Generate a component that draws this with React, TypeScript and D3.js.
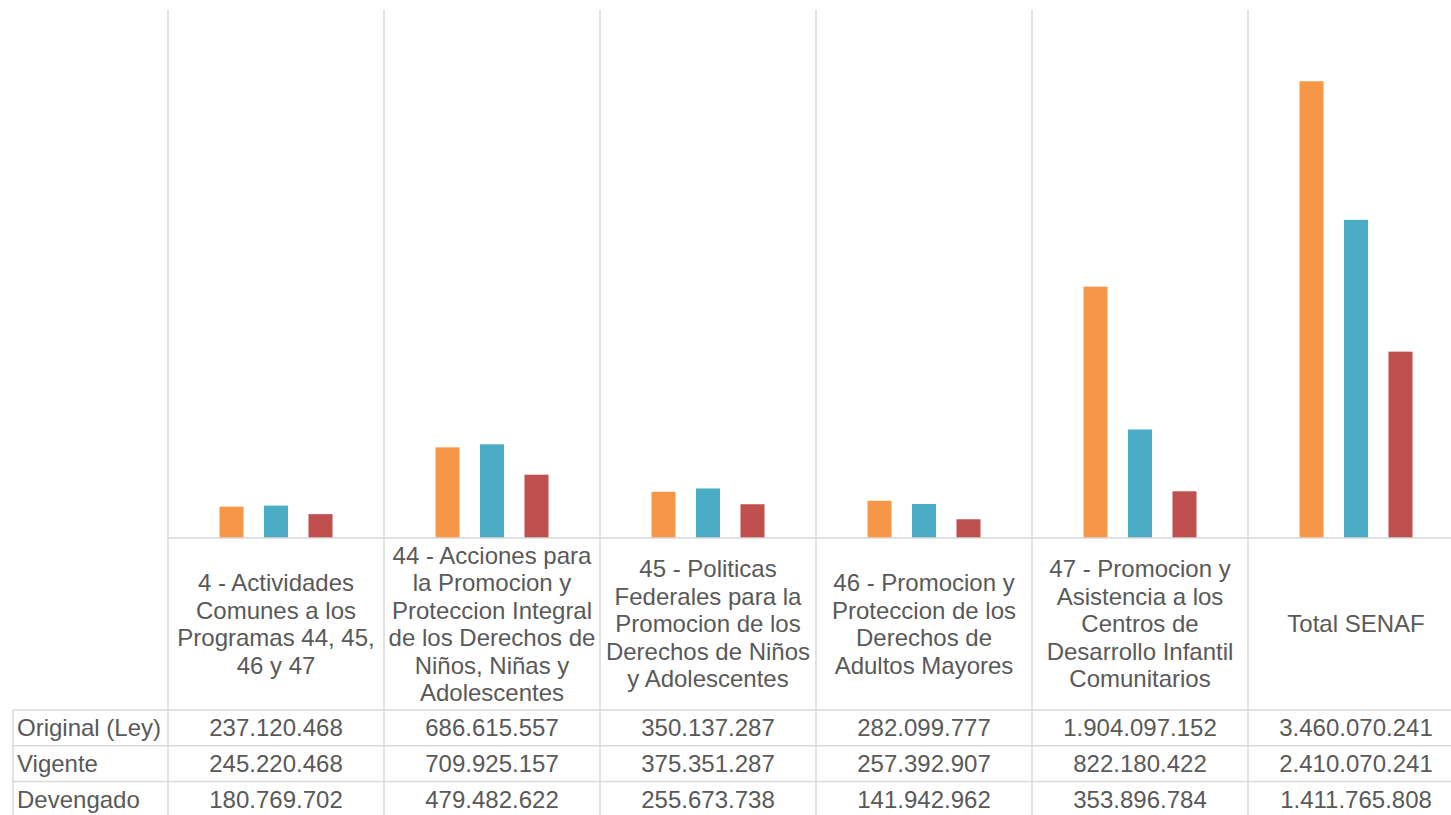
import * as d3 from 'd3'

const CATEGORIES: string[][] = [
  ['4 - Actividades', 'Comunes a los', 'Programas 44, 45,', '46 y 47'],
  ['44 - Acciones para', 'la Promocion y', 'Proteccion Integral', 'de los Derechos de', 'Niños, Niñas y', 'Adolescentes'],
  ['45 - Politicas', 'Federales para la', 'Promocion de los', 'Derechos de Niños', 'y Adolescentes'],
  ['46 - Promocion y', 'Proteccion de los', 'Derechos de', 'Adultos Mayores'],
  ['47 - Promocion y', 'Asistencia a los', 'Centros de', 'Desarrollo Infantil', 'Comunitarios'],
  ['Total SENAF'],
]

const SERIES = ['Original (Ley)', 'Vigente', 'Devengado']
const COLORS = ['#F79646', '#4BACC6', '#C0504D']

const ORIGINAL = [237120468, 686615557, 350137287, 282099777, 1904097152, 3460070241]
const VIGENTE = [245220468, 709925157, 375351287, 257392907, 822180422, 2410070241]
const DEVENGADO = [180769702, 479482622, 255673738, 141942962, 353896784, 1411765808]

const VALUES = [ORIGINAL, VIGENTE, DEVENGADO]

const W = 1451
const H = 815
const PLOT_LEFT = 168
const COL_W = 216
const PLOT_TOP = 10
const BASE = 538
const HEADER_BOTTOM = 710
const ROW_H = 35.7
const TABLE_LEFT = 13
const GRID = '#d9d9d9'
const TEXT = '#595959'
const FONT = 'Arial, "Liberation Sans", sans-serif'
const FS = 24

const fmt = (v: number) => d3.format(',')(v).replace(/,/g, '.')

export default function App() {
  const keys = CATEGORIES.map((_, i) => String(i))
  const x0 = d3.scaleBand().domain(keys).range([PLOT_LEFT, PLOT_LEFT + COL_W * keys.length])
  const x1 = d3.scaleBand().domain(SERIES).range([0, x0.bandwidth()]).paddingInner(0.46).paddingOuter(1.157)
  const y = d3.scaleLinear().domain([0, 4e9]).range([BASE, PLOT_TOP])

  const lineH = 27.5
  const headerMid = (BASE + HEADER_BOTTOM) / 2

  return (
    <svg width={W} height={H} style={{ position: 'absolute', left: 0, top: 0 }} fontFamily={FONT}>
      <rect width={W} height={H} fill="#fff" />
      {/* bars */}
      {keys.map((k, ci) => (
        <g key={k} transform={`translate(${x0(k)},0)`}>
          {SERIES.map((s, si) => (
            <rect
              key={s}
              x={x1(s)}
              y={y(VALUES[si][ci])}
              width={x1.bandwidth()}
              height={BASE - y(VALUES[si][ci])}
              fill={COLORS[si]}
            />
          ))}
        </g>
      ))}

      {/* vertical grid / table column lines */}
      {keys.map(k => (
        <line key={k} x1={x0(k)} x2={x0(k)} y1={PLOT_TOP} y2={H} stroke={GRID} strokeWidth={1.5} />
      ))}
      <line x1={PLOT_LEFT} x2={W} y1={BASE} y2={BASE} stroke={GRID} strokeWidth={1.5} />
      <line x1={TABLE_LEFT} x2={TABLE_LEFT} y1={HEADER_BOTTOM} y2={H} stroke={GRID} strokeWidth={1.5} />
      {SERIES.map((s, i) => (
        <line key={s} x1={TABLE_LEFT} x2={W} y1={HEADER_BOTTOM + i * ROW_H} y2={HEADER_BOTTOM + i * ROW_H} stroke={GRID} strokeWidth={1.5} />
      ))}

      {/* category headers */}
      {CATEGORIES.map((lines, ci) => {
        const cx = (x0(keys[ci]) ?? 0) + x0.bandwidth() / 2
        const startY = headerMid - ((lines.length - 1) * lineH) / 2
        return (
          <text key={ci} textAnchor="middle" fill={TEXT} fontSize={FS}>
            {lines.map((ln, li) => (
              <tspan key={li} x={cx} y={startY + li * lineH} dy="0.35em">{ln}</tspan>
            ))}
          </text>
        )
      })}

      {/* data table */}
      {SERIES.map((s, si) => {
        const cy = HEADER_BOTTOM + si * ROW_H + ROW_H / 2
        return (
          <g key={s}>
            <text x={TABLE_LEFT + 4} y={cy} dy="0.35em" fill={TEXT} fontSize={FS}>{s}</text>
            {keys.map((k, ci) => (
              <text key={k} x={(x0(k) ?? 0) + x0.bandwidth() / 2} y={cy} dy="0.35em" textAnchor="middle" fill={TEXT} fontSize={FS}>
                {fmt(VALUES[si][ci])}
              </text>
            ))}
          </g>
        )
      })}
    </svg>
  )
}
